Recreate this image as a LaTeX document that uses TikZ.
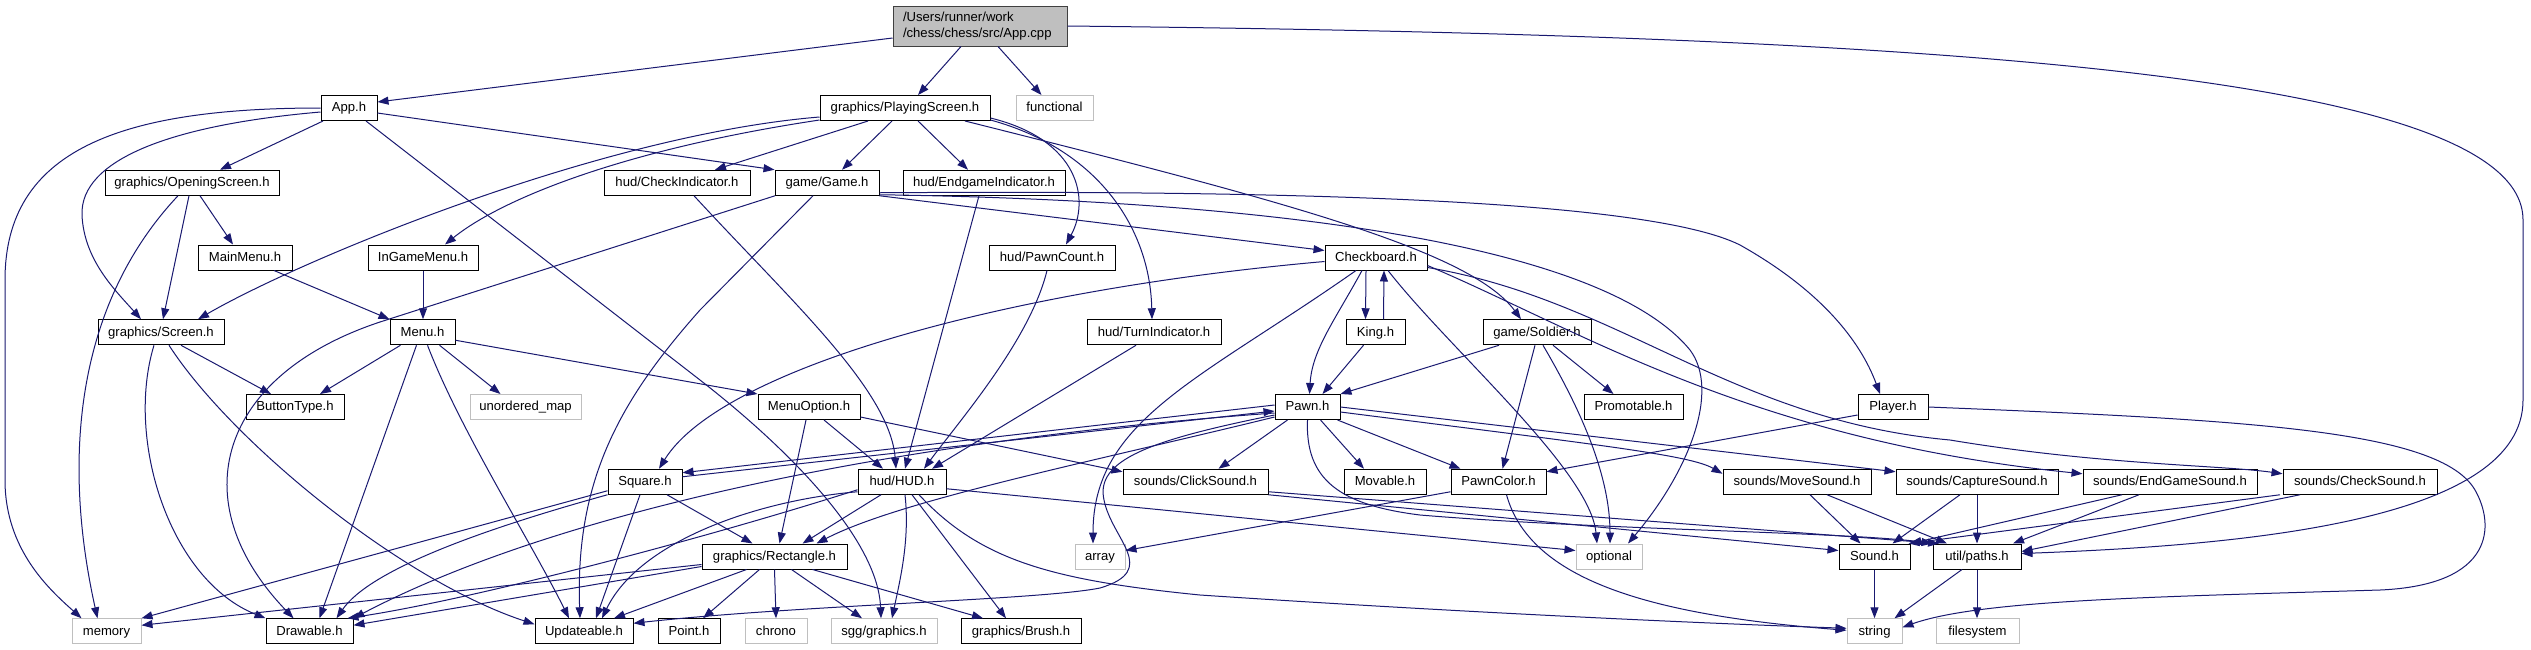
\documentclass[tikz,border=0pt]{standalone}
\usepackage{fontspec}
\setmainfont{Liberation Sans}
\usetikzlibrary{arrows.meta}
\definecolor{edgeblue}{HTML}{191970}
\definecolor{extgray}{HTML}{BFBFBF}
\definecolor{rootfill}{HTML}{BFBFBF}
\definecolor{rootline}{HTML}{404040}
\newcommand\dxfont{\fontsize{13.1}{15.5}\selectfont}
\tikzset{
 box/.style={draw=black, line width=1pt, fill=white, minimum height=25pt, inner sep=0pt, font=\dxfont, text=black, text height=9.4pt, text depth=1.5pt},
 ext/.style={box, draw=extgray},
 dep/.style={draw=edgeblue, line width=1pt, -{Triangle[length=11pt,width=8pt]}},
}
\begin{document}
\begin{tikzpicture}[x=1pt,y=-1pt]
\fill[white] (0,0) rectangle (2531,649);
\useasboundingbox (0,0) rectangle (2531,649);
% nodes
\node[draw=rootline, fill=rootfill, line width=1pt, minimum width=174pt, minimum height=40pt, inner sep=0pt, text width=154pt, align=left, font=\dxfont] (root) at (980,26) {/Users/runner/work\\/chess/chess/src/App.cpp};
\node[box,minimum width=56pt] (App) at (349,108) {App.h};
\node[box,minimum width=170pt] (PS) at (905,108) {graphics/PlayingScreen.h};
\node[ext,minimum width=77pt] (func) at (1054.5,108) {functional};
\node[box,minimum width=174pt] (OS) at (192,182.75) {graphics/OpeningScreen.h};
\node[box,minimum width=146pt] (CI) at (677,182.75) {hud/CheckIndicator.h};
\node[box,minimum width=104pt] (Game) at (827,182.75) {game/Game.h};
\node[box,minimum width=162pt] (EI) at (984,182.75) {hud/EndgameIndicator.h};
\node[box,minimum width=94pt] (MM) at (245,257.5) {MainMenu.h};
\node[box,minimum width=110pt] (IGM) at (423,257.5) {InGameMenu.h};
\node[box,minimum width=126pt] (PC) at (1052,257.5) {hud/PawnCount.h};
\node[box,minimum width=102pt] (CB) at (1376,257.5) {Checkboard.h};
\node[box,minimum width=126pt] (Scr) at (161,332.25) {graphics/Screen.h};
\node[box,minimum width=65pt] (Menu) at (422.5,332.25) {Menu.h};
\node[box,minimum width=134pt] (TI) at (1154,332.25) {hud/TurnIndicator.h};
\node[box,minimum width=59pt] (King) at (1375.5,332.25) {King.h};
\node[box,minimum width=108pt] (Sol) at (1537,332.25) {game/Soldier.h};
\node[box,minimum width=98pt] (BT) at (295,407) {ButtonType.h};
\node[ext,minimum width=111pt] (UM) at (525.5,407) {unordered\_map};
\node[box,minimum width=102pt] (MO) at (809,407) {MenuOption.h};
\node[box,minimum width=65pt] (Pawn) at (1307.5,407) {Pawn.h};
\node[box,minimum width=99pt] (Prom) at (1633.5,407) {Promotable.h};
\node[box,minimum width=70pt] (Player) at (1893,407) {Player.h};
\node[box,minimum width=74pt] (Sq) at (645,481.75) {Square.h};
\node[box,minimum width=88pt] (HUD) at (902,481.75) {hud/HUD.h};
\node[box,minimum width=145pt] (CS) at (1195.5,481.75) {sounds/ClickSound.h};
\node[box,minimum width=82pt] (Mov) at (1385,481.75) {Movable.h};
\node[box,minimum width=95pt] (PCol) at (1498.5,481.75) {PawnColor.h};
\node[box,minimum width=148pt] (MS) at (1797,481.75) {sounds/MoveSound.h};
\node[box,minimum width=162pt] (CapS) at (1977,481.75) {sounds/CaptureSound.h};
\node[box,minimum width=174pt] (EGS) at (2170,481.75) {sounds/EndGameSound.h};
\node[box,minimum width=154pt] (ChS) at (2360,481.75) {sounds/CheckSound.h};
\node[box,minimum width=145pt] (Rect) at (774.5,556.5) {graphics/Rectangle.h};
\node[ext,minimum width=50pt] (arr) at (1100,556.5) {array};
\node[ext,minimum width=66pt] (opt) at (1609,556.5) {optional};
\node[box,minimum width=71pt] (Snd) at (1874.5,556.5) {Sound.h};
\node[box,minimum width=88pt] (paths) at (1977,556.5) {util/paths.h};
\node[ext,minimum width=69pt] (mem) at (106.5,631.25) {memory};
\node[box,minimum width=87pt] (Draw) at (309.5,631.25) {Drawable.h};
\node[box,minimum width=98pt] (Upd) at (584,631.25) {Updateable.h};
\node[box,minimum width=62pt] (Pt) at (689,631.25) {Point.h};
\node[ext,minimum width=62pt] (chrono) at (776,631.25) {chrono};
\node[ext,minimum width=106pt] (sgg) at (884,631.25) {sgg/graphics.h};
\node[box,minimum width=120pt] (Brush) at (1021,631.25) {graphics/Brush.h};
\node[ext,minimum width=55pt] (str) at (1874.5,631.25) {string};
\node[ext,minimum width=83pt] (fs) at (1977.5,631.25) {filesystem};
% edges from root
\draw[dep] ([yshift=-12pt]root.west) -- ([yshift=6pt]App.east);
\draw[dep] ([xshift=-19pt]root.south) -- ([xshift=13pt]PS.north);
\draw[dep] ([xshift=18pt]root.south) -- ([xshift=-13pt]func.north);
\draw[dep] (root.east) .. controls (1900,35) and (2523,70) .. (2523,220) -- (2523,400) .. controls (2523,520) and (2250,545) .. ([yshift=3pt]paths.east);
% App.h
\draw[dep] (App.west) .. controls (120,108) and (5,150) .. (5,280) -- (5,480) .. controls (5,550) and (50,590) .. ([xshift=-25pt]mem.north);
\draw[dep] ([yshift=-4pt]App.west) .. controls (170,125) and (80,160) .. (82,215) .. controls (84,260) and (115,290) .. ([xshift=-20pt]Scr.north);
\draw[dep] ([xshift=-26pt]App.south) -- ([xshift=28pt]OS.north);
\draw[dep] ([yshift=-5pt]App.east) -- (Game.north west);
\draw[dep] ([xshift=17pt]App.south) -- (700,380) .. controls (790,450) and (878,540) .. ([xshift=-3pt]sgg.north);
% OpeningScreen
\draw[dep] ([xshift=-14pt]OS.south) .. controls (80,300) and (60,450) .. ([xshift=-9pt]mem.north);
\draw[dep] ([xshift=-3pt]OS.south) -- ([xshift=2pt]Scr.north);
\draw[dep] ([xshift=8pt]OS.south) -- ([xshift=-12pt]MM.north);
% PlayingScreen
\draw[dep] ([yshift=-9pt]PS.west) .. controls (600,135) and (300,260) .. ([xshift=37pt]Scr.north);
\draw[dep] ([yshift=-12pt]PS.west) .. controls (620,150) and (500,200) .. ([xshift=22pt]IGM.north);
\draw[dep] ([xshift=-37pt]PS.south) -- ([xshift=38pt]CI.north);
\draw[dep] ([xshift=-13pt]PS.south) -- ([xshift=15pt]Game.north);
\draw[dep] ([xshift=13pt]PS.south) -- ([xshift=-16pt]EI.north);
\draw[dep] ([yshift=-10pt]PS.east) .. controls (1080,140) and (1090,200) .. ([xshift=14pt]PC.north);
\draw[dep] ([yshift=-12pt]PS.east) .. controls (1100,150) and (1150,230) .. ([xshift=-2pt]TI.north);
\draw[dep] ([xshift=60pt]PS.south) .. controls (1280,200) and (1470,250) .. ([xshift=-16pt]Sol.north);
% Game
\draw[dep] ([xshift=-52pt]Game.south) -- (380,322) .. controls (220,375) and (180,500) .. ([xshift=-16pt]Draw.north);
\draw[dep] ([xshift=-14pt]Game.south) -- (700,310) .. controls (620,400) and (575,480) .. ([xshift=-4pt]Upd.north);
\draw[dep] (Game.south east) -- ([yshift=7pt]CB.west);
\draw[dep] ([yshift=-10pt]Game.east) .. controls (1300,190) and (1650,200) .. (1740,245) .. controls (1820,290) and (1860,340) .. ([xshift=-13pt]Player.north);
\draw[dep] ([yshift=-12pt]Game.east) .. controls (1250,200) and (1600,240) .. (1690,350) .. controls (1720,390) and (1690,470) .. ([xshift=19pt]opt.north);
% Checkboard
\draw[dep] ([yshift=-4pt]CB.west) .. controls (1000,290) and (720,370) .. ([xshift=14pt]Sq.north);
\draw[dep] ([xshift=-20pt]CB.south) .. controls (1200,380) and (1093,420) .. ([xshift=-7pt]arr.north);
\draw[dep] ([xshift=-10pt]CB.south) -- ([xshift=-10pt]King.north);
\draw[dep] ([xshift=8pt]King.north) -- ([xshift=8pt]CB.south);
\draw[dep] ([xshift=-14pt]CB.south) .. controls (1335,320) and (1312,350) .. ([xshift=2pt]Pawn.north);
\draw[dep] ([xshift=12pt]CB.south) .. controls (1450,350) and (1590,470) .. ([xshift=-12pt]opt.north);
\draw[dep] ([yshift=-8pt]CB.east) .. controls (1580,330) and (1750,440) .. ([yshift=8pt]EGS.west);
\draw[dep] ([yshift=-10pt]CB.east) .. controls (1620,300) and (1730,420) .. (1950,440) .. controls (2100,465) and (2220,465) .. ([yshift=8pt]ChS.west);
% King
\draw[dep] ([xshift=-12pt]King.south) -- ([xshift=15pt]Pawn.north);
% Soldier
\draw[dep] ([xshift=-38pt]Sol.south) -- (Pawn.north east);
\draw[dep] ([xshift=-2pt]Sol.south) -- ([xshift=4pt]PCol.north);
\draw[dep] ([xshift=6pt]Sol.south) .. controls (1575,400) and (1610,470) .. ([xshift=1pt]opt.north);
\draw[dep] ([xshift=16pt]Sol.south) -- ([xshift=-20pt]Prom.north);
% Pawn
\draw[dep] ([yshift=2pt]Pawn.west) -- ([yshift=9pt]Sq.east);
\draw[dep] ([yshift=5pt]Sq.east) -- ([yshift=-4pt]Pawn.west);
\draw[dep] ([yshift=-6pt]Pawn.west) .. controls (900,440) and (560,510) .. (Draw.north east);
\draw[dep] ([yshift=-10pt]Pawn.west) .. controls (1100,460) and (900,500) .. ([xshift=42pt]Rect.north);
\draw[dep] ([yshift=-8pt]Pawn.west) .. controls (1150,440) and (1095,460) .. (1104,500) .. controls (1112,540) and (1160,570) .. (1100,588) .. controls (1040,600) and (800,605) .. ([yshift=8pt]Upd.east);
\draw[dep] ([xshift=-20pt]Pawn.south) -- ([xshift=23pt]CS.north);
\draw[dep] ([xshift=13pt]Pawn.south) -- ([xshift=-21pt]Mov.north);
\draw[dep] ([xshift=30pt]Pawn.south) -- ([xshift=-38pt]PCol.north);
\draw[dep] ([yshift=-5pt]Pawn.east) .. controls (1600,445) and (1690,455) .. ([yshift=8pt]MS.west);
\draw[dep] ([yshift=0pt]Pawn.east) -- ([yshift=10pt]CapS.west);
\draw[dep] (Pawn.south) .. controls (1305,480) and (1340,505) .. (1420,515) .. controls (1600,530) and (1850,532) .. (paths.north west);
% HUD
\draw[dep] ([yshift=-7pt]HUD.east) -- ([yshift=6pt]opt.west);
\draw[dep] ([xshift=17pt]HUD.south) .. controls (980,560) and (1050,580) .. (1200,595) .. controls (1500,615) and (1750,625) .. ([yshift=3pt]str.west);
\draw[dep] ([xshift=-21pt]HUD.south) -- ([xshift=28pt]Rect.north);
\draw[dep] ([xshift=3pt]HUD.south) .. controls (910,540) and (900,580) .. ([xshift=8pt]sgg.north);
\draw[dep] ([xshift=10pt]HUD.south) -- ([xshift=-15pt]Brush.north);
\draw[dep] ([yshift=-8pt]HUD.west) .. controls (700,540) and (470,600) .. ([xshift=38pt]Draw.north);
\draw[dep] ([yshift=-10pt]HUD.west) .. controls (760,500) and (640,540) .. ([xshift=18pt]Upd.north);
% PawnColor, Player
\draw[dep] ([xshift=8pt]PCol.south) .. controls (1530,580) and (1650,615) .. ([yshift=1pt]str.west);
\draw[dep] ([yshift=-10pt]PCol.west) -- ([yshift=6pt]arr.east);
\draw[dep] ([yshift=-8pt]Player.west) -- ([yshift=10pt]PCol.east);
\draw[dep] (Player.east) .. controls (2250,420) and (2440,430) .. (2475,490) .. controls (2495,525) and (2495,585) .. (2380,590) .. controls (2150,597) and (1980,600) .. ([yshift=4pt]str.east);
% sounds
\draw[dep] (Snd.south) -- (str.north);
\draw[dep] ([xshift=-15pt]paths.south) -- ([xshift=20pt]str.north);
\draw[dep] (paths.south) -- ([xshift=-0.5pt]fs.north);
\draw[dep] ([xshift=13pt]MS.south) -- ([xshift=-14pt]Snd.north);
\draw[dep] ([xshift=30pt]MS.south) -- ([xshift=-30pt]paths.north);
\draw[dep] ([xshift=-17pt]CapS.south) -- ([xshift=18pt]Snd.north);
\draw[dep] (CapS.south) -- (paths.north);
\draw[dep] ([xshift=-48pt]EGS.south) -- (Snd.north east);
\draw[dep] ([xshift=-31pt]EGS.south) -- ([xshift=36pt]paths.north);
\draw[dep] ([xshift=-80pt]ChS.south) -- ([xshift=-2pt]Snd.north east);
\draw[dep] ([xshift=-60pt]ChS.south) -- ([yshift=5pt]paths.east);
\draw[dep] (CS.south east) -- ([yshift=6pt]Snd.west);
\draw[dep] ([yshift=-10pt]CS.east) -- ([xshift=-38pt]paths.north);
% MenuOption
\draw[dep] ([yshift=-10pt]MO.east) -- ([yshift=10pt]CS.west);
\draw[dep] ([xshift=-3pt]MO.south) -- ([xshift=5pt]Rect.north);
\draw[dep] ([xshift=15pt]MO.south) -- ([xshift=-19pt]HUD.north);
% Menu
\draw[dep] ([xshift=-22pt]Menu.south) -- ([xshift=25pt]BT.north);
\draw[dep] ([xshift=17pt]Menu.south) -- ([xshift=-25pt]UM.north);
\draw[dep] ([yshift=-8pt]Menu.east) -- (MO.north west);
\draw[dep] ([xshift=-6pt]Menu.south) -- ([xshift=10pt]Draw.north);
\draw[dep] ([xshift=5pt]Menu.south) .. controls (460,430) and (530,540) .. ([xshift=-15pt]Upd.north);
% Screen
\draw[dep] ([xshift=20pt]Scr.south) -- ([xshift=-24pt]BT.north);
\draw[dep] ([xshift=-7pt]Scr.south) .. controls (125,440) and (170,580) .. (Draw.north west);
\draw[dep] ([xshift=8pt]Scr.south) .. controls (230,440) and (400,580) .. ([yshift=7pt]Upd.west);
% menus
\draw[dep] (IGM.south) -- ([xshift=0.5pt]Menu.north);
\draw[dep] ([xshift=29pt]MM.south) -- (Menu.north west);
% indicators
\draw[dep] ([xshift=17pt]CI.south) .. controls (790,300) and (890,390) .. ([xshift=-6pt]HUD.north);
\draw[dep] ([xshift=-5pt]EI.south) -- ([xshift=3pt]HUD.north);
\draw[dep] ([xshift=-5pt]PC.south) .. controls (1030,340) and (960,420) .. ([xshift=22pt]HUD.north);
\draw[dep] ([xshift=-18pt]TI.south) -- ([xshift=30pt]HUD.north);
% Square
\draw[dep] ([yshift=-9pt]Sq.west) -- (mem.north east);
\draw[dep] (Sq.south west) .. controls (480,530) and (370,570) .. ([xshift=27pt]Draw.north);
\draw[dep] ([xshift=-5pt]Sq.south) -- ([xshift=12pt]Upd.north);
\draw[dep] ([xshift=22pt]Sq.south) -- ([xshift=-22pt]Rect.north);
% Rectangle
\draw[dep] ([yshift=-8pt]Rect.west) -- ([yshift=6pt]mem.east);
\draw[dep] ([yshift=-10pt]Rect.west) -- ([yshift=6pt]Draw.east);
\draw[dep] ([xshift=-28pt]Rect.south) -- ([xshift=30pt]Upd.north);
\draw[dep] ([xshift=-15pt]Rect.south) -- ([xshift=14pt]Pt.north);
\draw[dep] (Rect.south) -- (chrono.north);
\draw[dep] ([xshift=17pt]Rect.south) -- ([xshift=-22pt]sgg.north);
\draw[dep] ([xshift=38pt]Rect.south) -- ([xshift=-38pt]Brush.north);
\end{tikzpicture}
\end{document}
